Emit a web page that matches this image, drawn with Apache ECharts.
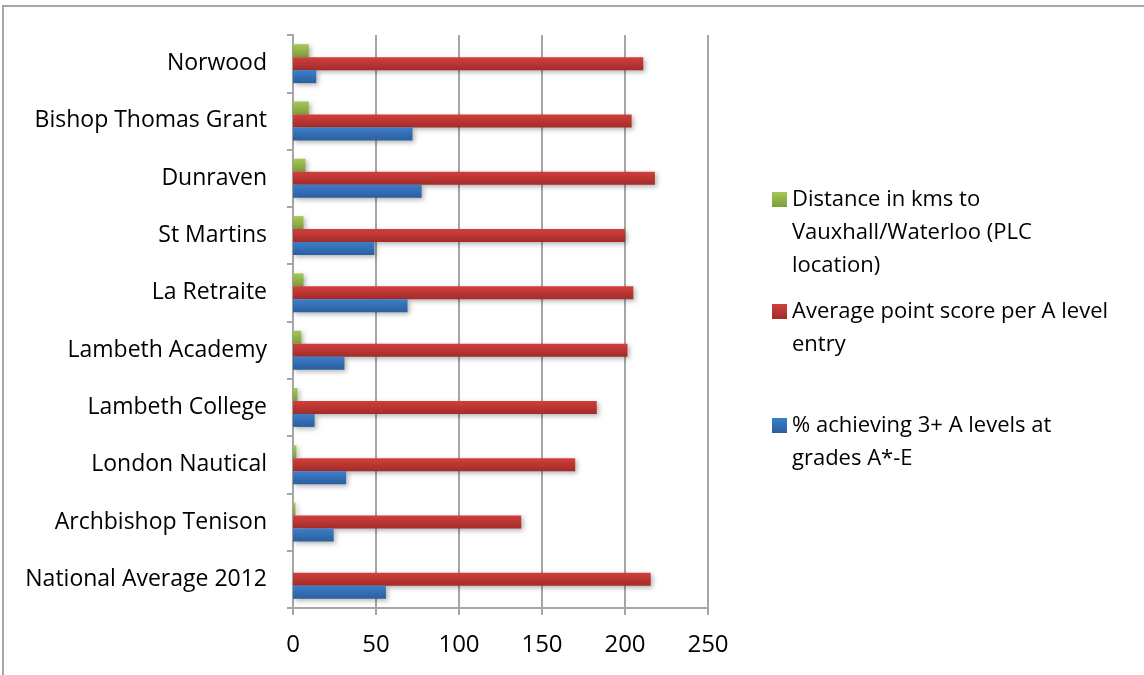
<!DOCTYPE html>
<html lang="en">
<head>
    <meta charset="UTF-8">
    <title>Schools chart</title>
    <style>
        html, body { margin: 0; padding: 0; background: #fff; }
        #main { width: 1144px; height: 675px; }
    </style>
</head>
<body>
    <div id="main"></div>
    <script src="https://cdn.jsdelivr.net/npm/echarts@6.0.0/dist/echarts.min.js"></script>
    <script>
        // schools, top to bottom as in the picture
        var schools = ['Norwood', 'Bishop Thomas Grant', 'Dunraven', 'St Martins', 'La Retraite',
            'Lambeth Academy', 'Lambeth College', 'London Nautical', 'Archbishop Tenison', 'National Average 2012'];
        var distanceKm = [9.5, 9.5, 7.5, 6.3, 6.3, 5, 2.7, 2.1, 1.5, 0];
        var avgPointScore = [211, 204, 218, 200, 205, 201.5, 183, 170, 137.5, 215.5];
        var pctThreePlus = [14, 72, 77.5, 49, 69, 31, 13, 32, 24.5, 56];
        var xTicks = [0, 50, 100, 150, 200, 250];

        var names = {
            dist: 'Distance in kms to Vauxhall/Waterloo (PLC location)',
            avg: 'Average point score per A level entry',
            pct: '% achieving 3+ A levels at grades A*-E'
        };
        // legend text wrapped like the original; the leading blank lines keep
        // the colour square level with the first line
        var wrapped = {};
        wrapped[names.dist] = '\n\nDistance in kms to\nVauxhall/Waterloo (PLC\nlocation)';
        wrapped[names.avg] = '\nAverage point score per A level\nentry';
        wrapped[names.pct] = '\n% achieving 3+ A levels at\ngrades A*-E';

        var font = '"Open Sans", Lato, sans-serif';

        function grad(top, bottom) {
            return new echarts.graphic.LinearGradient(0, 0, 0, 1, [
                { offset: 0, color: top },
                { offset: 1, color: bottom }
            ]);
        }

        function barSeries(name, data, top, bottom) {
            return {
                name: name,
                type: 'bar',
                data: data,
                barGap: '0%',
                barCategoryGap: '32%',
                itemStyle: {
                    color: grad(top, bottom),
                    shadowBlur: 5,
                    shadowColor: 'rgba(0,0,0,0.3)',
                    shadowOffsetX: 2,
                    shadowOffsetY: 2
                },
                emphasis: { disabled: true }
            };
        }

        function legendAt(name, top) {
            return {
                orient: 'vertical',
                left: 772,
                top: top,
                padding: 0,
                itemGap: 0,
                icon: 'rect',
                itemWidth: 15,
                itemHeight: 15,
                data: [name],
                formatter: function (n) { return wrapped[n]; },
                textStyle: { fontFamily: font, fontSize: 22, lineHeight: 33, color: '#000' }
            };
        }

        var myChart = echarts.init(document.getElementById('main'));

        var option = {
            animation: false,
            backgroundColor: '#fff',
            grid: { left: 293, right: 436, top: 35, bottom: 67, containLabel: false },
            legend: [
                legendAt(names.dist, 117),
                legendAt(names.avg, 262),
                legendAt(names.pct, 376)
            ],
            xAxis: {
                type: 'value',
                min: 0,
                max: 250,
                interval: 50,
                axisLine: { show: true, lineStyle: { color: '#a6a6a6', width: 2 } },
                axisTick: { show: true, length: 7, lineStyle: { color: '#a6a6a6', width: 2 } },
                axisLabel: {
                    margin: 25,
                    fontFamily: font, fontSize: 24, color: '#000',
                    formatter: function (v) { return xTicks.indexOf(v) >= 0 ? String(v) : ''; }
                },
                splitLine: { show: true, lineStyle: { color: '#a6a6a6', width: 2 } }
            },
            yAxis: {
                type: 'category',
                data: schools,
                inverse: true,
                axisLine: { show: true, lineStyle: { color: '#a6a6a6', width: 2 } },
                axisTick: { show: true, length: 6, lineStyle: { color: '#a6a6a6', width: 2 } },
                axisLabel: {
                    margin: 26, fontFamily: font, fontSize: 23, color: '#000',
                    padding: [4, 0, 0, 0]
                },
                splitLine: { show: false }
            },
            graphic: [{
                type: 'rect',
                silent: true,
                shape: { x: 3, y: 6, width: 1400, height: 900 },
                style: { fill: null, stroke: '#a6a6a6', lineWidth: 2 }
            }],
            series: [
                barSeries(names.dist, distanceKm, '#a5c957', '#7f9c3a'),
                barSeries(names.avg, avgPointScore, '#d23f3b', '#a22c2a'),
                barSeries(names.pct, pctThreePlus, '#3c7ecb', '#2c5e9d')
            ]
        };

        myChart.setOption(option);
    </script>
</body>
</html>
